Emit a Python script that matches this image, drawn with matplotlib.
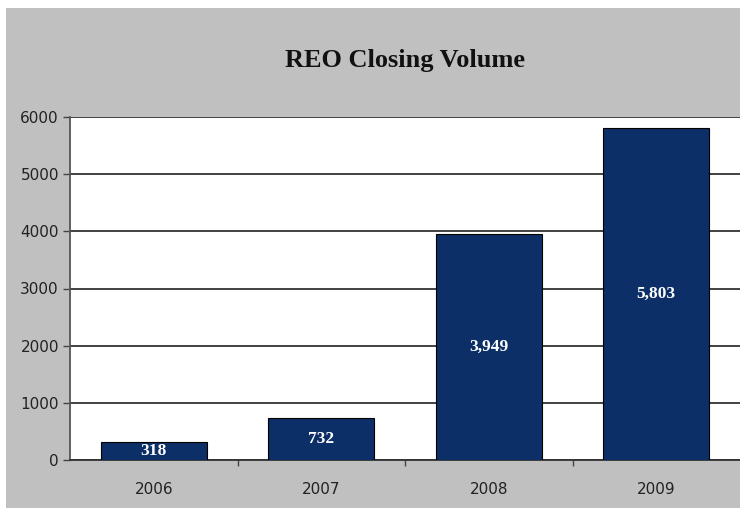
import matplotlib
matplotlib.use("Agg")
import matplotlib.pyplot as plt
from matplotlib.patches import Rectangle
from matplotlib.ticker import FixedLocator

# Data
years = ["2006", "2007", "2008", "2009"]
closings = [318, 732, 3949, 5803]
value_labels = ["318", "732", "3,949", "5,803"]
y_ticks = [0, 1000, 2000, 3000, 4000, 5000, 6000]

W, H = 740, 508
fig = plt.figure(figsize=(W / 100, H / 100), dpi=100, facecolor="white")

# Gray chart frame, leaving a thin white margin on the top and left
frame = Rectangle((6 / W, 0), 1 - 6 / W, 1 - 8 / H,
                  transform=fig.transFigure, facecolor="#c0c0c0",
                  edgecolor="none", zorder=-10)
fig.add_artist(frame)

ax = fig.add_axes([70 / W, 1 - 460 / H, (W - 70) / W, (460 - 117) / H])
ax.set_facecolor("white")

x = range(len(years))
ax.bar(x, closings, width=0.635, color="#0b2f66", edgecolor="black",
       linewidth=0.8, zorder=3)

for xi, v, lab in zip(x, closings, value_labels):
    ax.text(xi, v / 2, lab, ha="center", va="center", color="white",
            fontsize=12.5, fontweight="bold", family="Liberation Serif", zorder=4)

ax.set_xlim(-0.5, len(years) - 0.5)
ax.set_ylim(0, 6000)
ax.set_yticks(y_ticks)
ax.set_yticklabels([str(t) for t in y_ticks])
ax.yaxis.grid(True, color="#333333", linewidth=1.3, zorder=1)
ax.set_axisbelow(True)

ax.set_xticks(list(x))
ax.set_xticklabels(years)
ax.tick_params(axis="x", length=0, pad=16, labelsize=11, labelcolor="#222222")
ax.xaxis.set_minor_locator(FixedLocator([0.5, 1.5, 2.5]))
ax.tick_params(axis="x", which="minor", length=4, width=1, color="#444444")
ax.tick_params(axis="y", length=5, width=1, color="#444444", pad=3,
               labelsize=11, labelcolor="#222222")

for side in ["top", "right"]:
    ax.spines[side].set_visible(False)
ax.spines["left"].set_color("#555555")
ax.spines["left"].set_linewidth(1.3)
ax.spines["bottom"].set_color("#333333")
ax.spines["bottom"].set_linewidth(1.3)

fig.text(405 / W, 1 - 60 / H, "REO Closing Volume", ha="center", va="center",
         fontsize=19, fontweight="bold", family="Liberation Serif", color="#111111")

fig.savefig("out.png", dpi=100, facecolor=fig.get_facecolor())
